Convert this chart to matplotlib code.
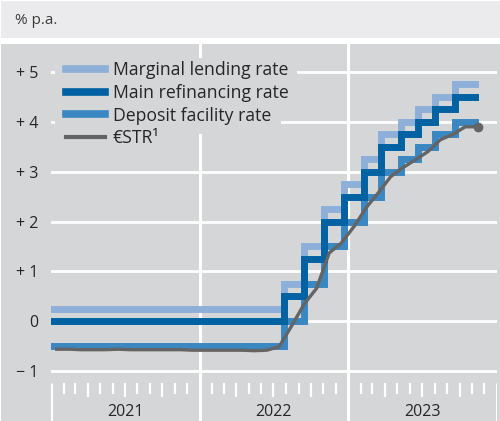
import numpy as np
import pandas as pd
import matplotlib
matplotlib.use('Agg')
import matplotlib.pyplot as plt
from matplotlib.lines import Line2D
from matplotlib.patches import Rectangle

plt.rcParams['font.family'] = ['Open Sans', 'DejaVu Sans']

# ── Data ──────────────────────────────────────────────────────────────────────
# ECB key interest rate decisions (effective dates), % p.a.
step_dates = ['2021-01-01', '2022-07-27', '2022-09-14', '2022-11-02', '2022-12-21',
              '2023-02-08', '2023-03-22', '2023-05-10', '2023-06-21', '2023-08-02',
              '2023-09-20']
end_date = '2023-11-08'
marginal = [0.25, 0.75, 1.50, 2.25, 2.75, 3.25, 3.75, 4.00, 4.25, 4.50, 4.75]
main_ref = [0.00, 0.50, 1.25, 2.00, 2.50, 3.00, 3.50, 3.75, 4.00, 4.25, 4.50]
deposit  = [-0.50, 0.00, 0.75, 1.50, 2.00, 2.50, 3.00, 3.25, 3.50, 3.75, 4.00]

# €STR, monthly averages (plotted mid-month)
estr_months = pd.date_range('2021-01-01', '2023-11-01', freq='MS') + pd.Timedelta(days=14)
estr = [-0.56, -0.56, -0.57, -0.57, -0.57, -0.56, -0.57, -0.57, -0.57, -0.57, -0.57, -0.58,
        -0.58, -0.58, -0.58, -0.58, -0.59, -0.58, -0.51, -0.09, 0.35, 0.66, 1.37, 1.57,
        1.90, 2.29, 2.57, 2.90, 3.08, 3.24, 3.40, 3.64, 3.75, 3.90, 3.90]

years = [2021, 2022, 2023]
y_ticks = [-1, 0, 1, 2, 3, 4, 5]
y_labels = ['\u2212 1', '0', '+ 1', '+ 2', '+ 3', '+ 4', '+ 5']

# ── Style ─────────────────────────────────────────────────────────────────────
BG     = '#d5d6d8'
HEAD   = '#ebebed'
LIGHT  = '#8eb0d8'
DARK   = '#0062a3'
MID    = '#3a87c1'
GREY   = '#646464'
TXT    = '#262626'

W, H = 500, 421
fig = plt.figure(figsize=(W / 100, H / 100), dpi=100, facecolor='white')
# header band and grey plot panel
fig.patches.append(Rectangle((1 / W, (H - 38) / H), 1, 37 / H, transform=fig.transFigure,
                             facecolor=HEAD, edgecolor='none', zorder=-10))
fig.patches.append(Rectangle((1 / W, 0), 1, (H - 44) / H, transform=fig.transFigure,
                             facecolor=BG, edgecolor='none', zorder=-10))
fig.text(15 / W, 1 - 21 / H, '% p.a.', fontsize=11, color='#3c3c3c', va='center', ha='left')

ax = fig.add_axes([51 / W, 0, (497 - 51) / W, (H - 44) / H])
ax.set_facecolor(BG)
for s in ax.spines.values():
    s.set_visible(False)

ax.set_xlim(pd.Timestamp('2021-01-01'), pd.Timestamp('2024-01-01'))
ax.set_ylim(-2.0, 5.56)

# horizontal grid
for v in y_ticks:
    ax.axhline(v, color='white', lw=2, zorder=1)
# year separators
for yr in years[1:]:
    ax.axvline(pd.Timestamp(f'{yr}-01-01'), color='white', lw=2.2, zorder=1)
for yr in [years[0], years[-1] + 1]:
    ax.vlines(pd.Timestamp(f'{yr}-01-01'), -2.0, -1.24, color='white', lw=2.2, zorder=1)
# month ticks, longer at quarters
months = pd.date_range('2021-02-01', '2023-12-01', freq='MS')
for m in months:
    if m.month == 1:
        continue
    low = -1.52 if m.month in (4, 7, 10) else -1.45
    ax.vlines(m, low, -1.24, color='white', lw=1.6, zorder=1)
for yr in years:
    ax.text(pd.Timestamp(f'{yr}-07-02'), -1.82, str(yr), ha='center', va='center',
            fontsize=11.5, color=TXT)

ax.set_yticks(y_ticks)
ax.set_yticklabels(y_labels)
ax.tick_params(axis='y', length=0, pad=9, labelsize=11.5, labelcolor=TXT)
ax.set_xticks([])

# ── Series ────────────────────────────────────────────────────────────────────
xs = pd.to_datetime(step_dates + [end_date])
ax.step(xs, marginal + [marginal[-1]], where='post', color=LIGHT, lw=5, zorder=3,
        solid_joinstyle='miter')
ax.step(xs, deposit + [deposit[-1]], where='post', color=MID, lw=5, zorder=4,
        solid_joinstyle='miter')
ax.step(xs, main_ref + [main_ref[-1]], where='post', color=DARK, lw=5, zorder=5,
        solid_joinstyle='miter')
ax.plot(estr_months, estr, color=GREY, lw=2.4, zorder=6)
ax.plot(estr_months[-1:], estr[-1:], 'o', color=GREY, ms=6, zorder=6)

# ── Legend with masked background ─────────────────────────────────────────────
def px2ax(px, py):
    return (px - 51) / (497 - 51), (H - py) / (H - 44)

for (l, t, r, b) in [(55, 58, 297, 101), (55, 101, 281, 134), (55, 134, 165, 146)]:
    xa, yb = px2ax(l, b)
    xb, ya = px2ax(r, t)
    ax.add_patch(Rectangle((xa, yb), xb - xa, ya - yb, transform=ax.transAxes,
                           facecolor=BG, edgecolor='none', zorder=7))

handles = [Line2D([], [], color=LIGHT, lw=5.5),
           Line2D([], [], color=DARK, lw=5.5),
           Line2D([], [], color=MID, lw=5.5),
           Line2D([], [], color=GREY, lw=3)]
labels = ['Marginal lending rate', 'Main refinancing rate', 'Deposit facility rate',
          '\u20acSTR\u00b9']
lx, ly = px2ax(66, 61)
leg = ax.legend(handles, labels, loc='upper left', bbox_to_anchor=(lx, ly),
                frameon=False, fontsize=12.7, handlelength=2.2, handletextpad=0.45,
                labelspacing=0.27, borderpad=0, borderaxespad=0)
leg.set_zorder(8)
for t in leg.get_texts():
    t.set_color(TXT)

fig.savefig('out.png', dpi=100)
